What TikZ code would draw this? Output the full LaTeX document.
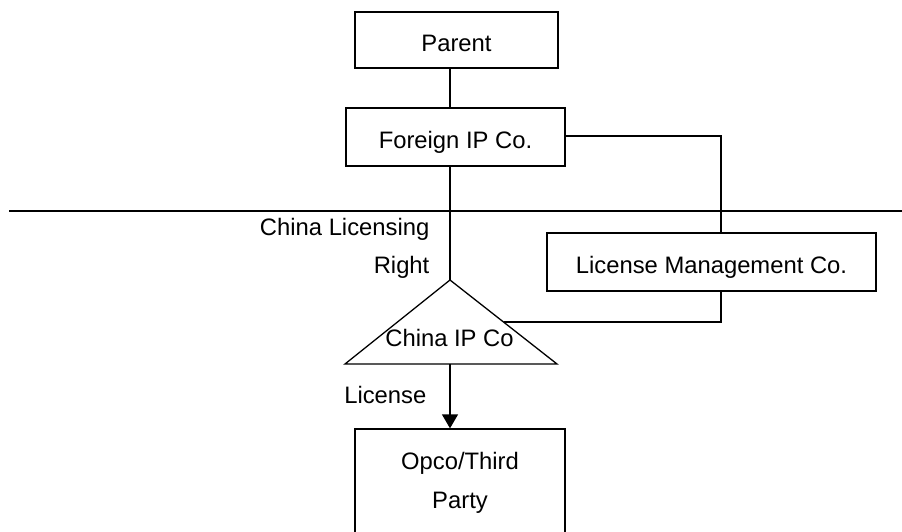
\documentclass[tikz,border=0pt]{standalone}
\usepackage{fontspec}
\setmainfont{Liberation Sans}
\usetikzlibrary{arrows.meta}
\begin{document}
\begin{tikzpicture}[x=1pt,y=-1pt,line width=1.3pt,
  every node/.style={font=\fontsize{23.8}{39}\selectfont,inner sep=0pt},
  boxnode/.style={draw,rectangle,text height=23pt,text depth=0pt},
  lbl/.style={anchor=base east}]
\useasboundingbox (0,0) rectangle (902,532);
% boxes
\node[boxnode,minimum width=203pt,minimum height=56pt] (parent) at (456.5,40) {Parent};
\node[boxnode,minimum width=219pt,minimum height=58pt] (foreign) at (455.5,137) {Foreign IP Co.};
\node[boxnode,minimum width=329pt,minimum height=58pt] (lm) at (711.5,262) {License Management Co.};
\node[draw,rectangle,minimum width=210pt,minimum height=131pt] (opco) at (460,494.5) {};
\node[align=center,anchor=base] (opcotext) at (460,508) {Opco/Third\\Party};
% triangle
\coordinate (apex) at (450,280);
\coordinate (bl) at (345,364);
\coordinate (br) at (557,364);
\coordinate (bm) at (450,364);
\draw (apex) -- (br) -- (bl) -- cycle;
\node[anchor=base] (chinaip) at (449.5,346) {China IP Co};
% divider line
\coordinate (divl) at (9,211);
\coordinate (divr) at (902,211);
\draw (divl) -- (divr);
% connectors
\coordinate (spine) at (450,0);
\coordinate (rt) at (721,136);
\coordinate (rb) at (721,322);
\coordinate (tri) at (503.5,322);
\draw (parent.south -| spine) -- (foreign.north -| spine);
\draw (foreign.south -| spine) -- (apex);
\draw (foreign.east |- rt) -- (rt) -- (lm.north -| rt);
\draw (lm.south -| rb) -- (rb) -- (tri);
\draw[-{Triangle[width=16pt,length=14pt]}] (bm) -- (opco.north -| bm);
% labels
\node[lbl] (l1) at (430,235) {China Licensing};
\node[lbl] (l2) at (430,273) {Right};
\node[lbl] (l3) at (427,403) {License};
\end{tikzpicture}
\end{document}
